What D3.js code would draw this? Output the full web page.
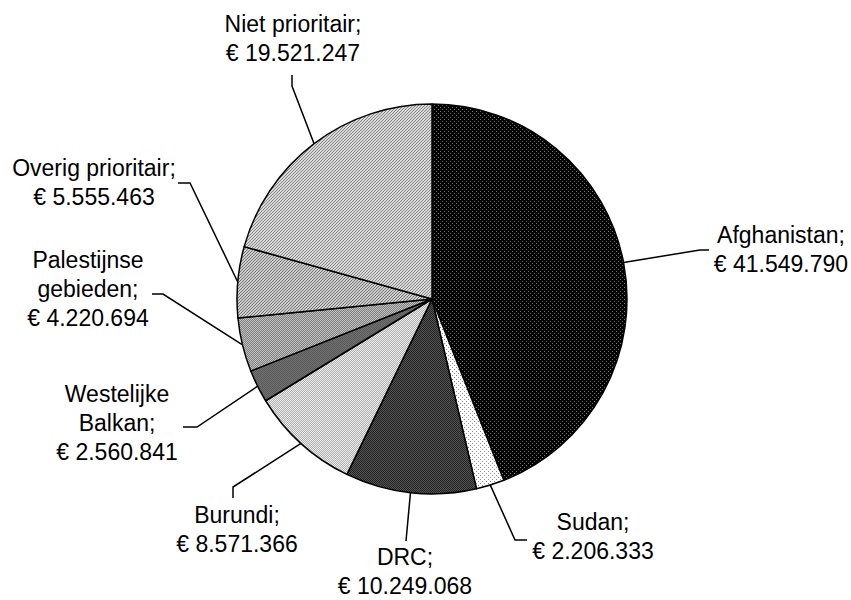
<!DOCTYPE html>
<html><head><meta charset="utf-8">
<script src="https://cdn.jsdelivr.net/npm/d3@7"></script>
<style>
html,body{margin:0;padding:0;background:#fff;}
text{font-family:"Liberation Sans",Arial,sans-serif;font-size:23px;fill:#000;}
</style></head>
<body>
<svg id="chart" width="851" height="600"></svg>
<script>
// Data
const categories = ["Afghanistan","Sudan","DRC","Burundi","Westelijke Balkan","Palestijnse gebieden","Overig prioritair","Niet prioritair"];
const values = [41549790, 2206333, 10249068, 8571366, 2560841, 4220694, 5555463, 19521247];
const labelLines = [
  ["Afghanistan;"],
  ["Sudan;"],
  ["DRC;"],
  ["Burundi;"],
  ["Westelijke","Balkan;"],
  ["Palestijnse","gebieden;"],
  ["Overig prioritair;"],
  ["Niet prioritair;"]
];

// Layout (label placement only)
const layout = [
  {x:781, y:243, pts:[[700,250],[709,250]]},
  {x:593, y:530, pts:[[515,540],[527,540]]},
  {x:405, y:565, pts:[[406,541]]},
  {x:237, y:523, pts:[[233,487],[233,498]]},
  {x:117, y:402, pts:[[197,427],[183,427]]},
  {x:88,  y:268, pts:[[163,294],[152,294]]},
  {x:94,  y:176, pts:[[190,183],[178,183]]},
  {x:293, y:32,  pts:[[292,86],[292,75]]}
];
const fills = ["url(#pAfg)","url(#pSud)","url(#pDrc)","url(#pBur)","url(#pBal)","url(#pPal)","url(#pOve)","url(#pNie)"];

const fmt = v => "€ " + d3.format(",")(v).replace(/,/g, ".");

const svg = d3.select("#chart");
const defs = svg.append("defs");

function pat(id, size, bg, dots){
  const p = defs.append("pattern").attr("id", id).attr("patternUnits","userSpaceOnUse")
    .attr("width", size).attr("height", size);
  p.append("rect").attr("width", size).attr("height", size).attr("fill", bg);
  (dots||[]).forEach(d => p.append("rect").attr("x", d[0]).attr("y", d[1]).attr("width",1).attr("height",1).attr("fill", d[2]));
}
pat("pAfg", 4, "#000", [[0,0,"#777"],[2,2,"#777"]]);
pat("pSud", 4, "#fff", [[0,0,"#888"],[2,2,"#888"]]);
pat("pDrc", 2, "#222", [[0,0,"#555"],[1,1,"#555"]]);
pat("pBur", 2, "#ececec", [[0,0,"#b0b0b0"],[1,1,"#b0b0b0"]]);
pat("pBal", 2, "#5a5a5a", [[0,0,"#707070"],[1,1,"#707070"]]);
pat("pPal", 2, "#c0c0c0", [[0,0,"#808080"],[1,1,"#808080"]]);
pat("pOve", 3, "#cccccc", [[0,2,"#777"],[1,1,"#777"],[2,0,"#777"]]);
pat("pNie", 3, "#d8d8d8", [[0,2,"#888"],[1,1,"#888"],[2,0,"#888"]]);

const cx = 432, cy = 299, r = 195;
const g = svg.append("g").attr("transform", `translate(${cx},${cy})`);

const pie = d3.pie().sort(null).value(d => d)(values);
const arc = d3.arc().innerRadius(0).outerRadius(r);

g.selectAll("path.slice").data(pie).join("path")
  .attr("class","slice")
  .attr("d", arc)
  .attr("fill", (d,i) => fills[i])
  .attr("stroke", "#000")
  .attr("stroke-width", 1.5)
  .attr("stroke-linejoin","round");

// Leader lines
pie.forEach((d,i) => {
  const a = (d.startAngle + d.endAngle)/2;
  const sx = cx + r*Math.sin(a), sy = cy - r*Math.cos(a);
  const pts = [[sx,sy]].concat(layout[i].pts);
  svg.append("path").attr("d", d3.line()(pts))
    .attr("fill","none").attr("stroke","#000").attr("stroke-width",1.5);
});

// Labels
categories.forEach((c,i) => {
  const lines = labelLines[i].concat([fmt(values[i])]);
  const t = svg.append("text").attr("text-anchor","middle");
  lines.forEach((ln,k) => {
    t.append("tspan").attr("x", layout[i].x).attr("y", layout[i].y + k*29).text(ln);
  });
});
</script>
</body></html>
